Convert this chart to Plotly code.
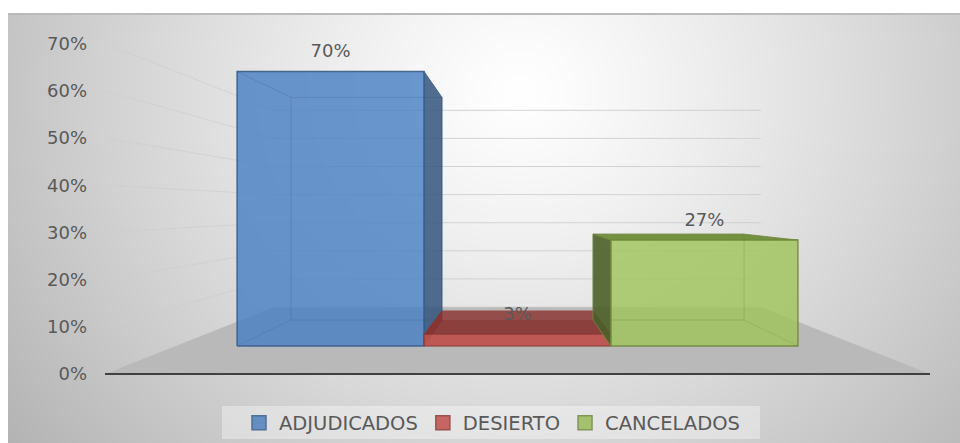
import base64, struct, zlib
import numpy as np
import plotly.graph_objects as go

# --- data ---
categories = ["ADJUDICADOS", "DESIERTO", "CANCELADOS"]
values = [70, 3, 27]
tick_values = [0, 10, 20, 30, 40, 50, 60, 70]
tick_labels = ["0%", "10%", "20%", "30%", "40%", "50%", "60%", "70%"]

# --- styles ---
front_colors = ["rgba(75,128,196,0.82)", "rgba(194,82,78,0.88)", "rgba(160,196,90,0.82)"]
dark_colors = ["rgba(50,85,125,0.85)", "rgba(140,50,48,0.8)", "rgba(75,95,40,0.9)"]
top_colors = ["rgba(79,129,189,0.25)", "rgba(140,50,48,0.8)", "rgba(110,140,55,0.95)"]
edge_colors = ["rgba(56,93,138,0.9)", "rgba(140,56,54,0.7)", "rgba(113,137,63,0.9)"]
legend_fill = ["#4F81BD", "#C0504D", "#9BBB59"]
legend_edge = ["#385D8A", "#8C3836", "#71893F"]
FONT = "DejaVu Sans"
TEXT = "#595959"

W, H = 960, 443
L = 88
PX_PER_UNIT = 4.72          # pixels per percent on the front plane
ZERO_PX = 374               # pixel row of 0 %
UNIT_X = 225.6              # pixels per bar slot on the front plane
CX = 517.5

FLOOR_RISE = 14.19
def px(X, d):
    return X * (1 - 0.41 * d)
def py(v, d):
    return FLOOR_RISE * d + v * (1 - 0.4047 * d)

FLOOR_HALF = 412.5 / UNIT_X
D_FRONT, D_BACK = 0.418, 0.806

# --- background picture: radial grey wash with a white margin and grey top rule
yy, xx = np.mgrid[0:H, 0:W]
r = np.sqrt(((xx - 520) / 500.0) ** 2 + ((yy - 90) / 455.0) ** 2)
img = np.clip(255 - 56 * r ** 1.2, 170, 255).astype(np.uint8)
img[:13, :] = 255
img[:, :8] = 255
img[13:15, 8:] = 187
raw = b"".join(b"\x00" + img[i].tobytes() for i in range(H))
def chunk(t, d):
    return struct.pack(">I", len(d)) + t + d + struct.pack(">I", zlib.crc32(t + d) & 0xffffffff)
png = (b"\x89PNG\r\n\x1a\n" + chunk(b"IHDR", struct.pack(">IIBBBBB", W, H, 8, 0, 0, 0, 0))
       + chunk(b"IDAT", zlib.compress(raw, 9)) + chunk(b"IEND", b""))
bg_uri = "data:image/png;base64," + base64.b64encode(png).decode()

fig = go.Figure()

def poly(pts, fill=None, line=None, width=1):
    xs = [p[0] for p in pts] + [pts[0][0]]
    ys = [p[1] for p in pts] + [pts[0][1]]
    fig.add_trace(go.Scatter(
        x=xs, y=ys, mode="lines", fill="toself" if fill else None,
        fillcolor=fill, line=dict(color=line or "rgba(0,0,0,0)", width=width if line else 0),
        showlegend=False, hoverinfo="skip"))

def seg(a, b, color, width=1):
    fig.add_trace(go.Scatter(x=[a[0], b[0]], y=[a[1], b[1]], mode="lines",
                             line=dict(color=color, width=width),
                             showlegend=False, hoverinfo="skip"))

# floor
poly([(px(-FLOOR_HALF, 0), py(0, 0)), (px(FLOOR_HALF, 0), py(0, 0)),
      (px(FLOOR_HALF, 1), py(0, 1)), (px(-FLOOR_HALF, 1), py(0, 1))], fill="#b9b9b9")

# walls' gridlines
for t in tick_values:
    if t > 0:
        seg((px(-FLOOR_HALF, 0), py(t, 0)), (px(-FLOOR_HALF, 1), py(t, 1)), "rgba(205,205,205,0.7)", 1)
    seg((px(-FLOOR_HALF, 1), py(t, 1)), (px(FLOOR_HALF, 1), py(t, 1)), "rgba(205,205,205,0.85)", 1)

# bars
for i, v in enumerate(values):
    x0, x1 = i - 1.5, i - 0.5
    fb = lambda X, val, d: (px(X, d), py(val, d))
    a, b = D_FRONT, D_BACK
    if i == 1:
        poly([fb(x0, v, a), fb(x1, v, a), fb(x1, v, b), fb(x0, v, b)], fill=top_colors[i])
        poly([fb(x0, 0, a), fb(x1, 0, a), fb(x1, 0, b), fb(x0, 0, b)], fill="rgba(120,40,38,0.35)")
        poly([fb(x0, v, a), fb(x0, v, b), fb(x0, 0, b), fb(x0, 0, a)], fill=dark_colors[i])
        poly([fb(x1, v, a), fb(x1, v, b), fb(x1, 0, b), fb(x1, 0, a)], fill=dark_colors[i])
    if i == 0:
        poly([fb(x1, v, a), fb(x1, v, b), fb(x1, 0, b), fb(x1, 0, a)], fill=dark_colors[i], line=edge_colors[i])
    if i == 2:
        poly([fb(x0, v, a), fb(x0, v, b), fb(x0, 0, b), fb(x0, 0, a)], fill=dark_colors[i], line=edge_colors[i])
        poly([fb(x0, v, a), fb(x1, v, a), fb(x1, v, b), fb(x0, v, b)], fill=top_colors[i], line=edge_colors[i])
    # front
    poly([fb(x0, 0, a), fb(x1, 0, a), fb(x1, v, a), fb(x0, v, a)], fill=front_colors[i], line=edge_colors[i], width=1.5)
    # back rectangle and connecting edges, faint
    if i != 1:
        tone = "50,80,120" if i == 0 else "90,110,50"
        poly([fb(x0, 0, b), fb(x1, 0, b), fb(x1, v, b), fb(x0, v, b)], line=f"rgba({tone},0.22)")
        seg(fb(x0, v, a), fb(x0, v, b), f"rgba({tone},0.25)")
        seg(fb(x0, 0, a), fb(x0, 0, b), f"rgba({tone},0.15)")
        seg(fb(x1, 0, a), fb(x1, 0, b), f"rgba({tone},0.15)")

# front axis line
seg((px(-FLOOR_HALF, 0), 0), (px(FLOOR_HALF, 0), 0), "#404040", 2.2)

# data labels
fig.add_trace(go.Scatter(
    x=[px(i - 1, D_FRONT) for i in range(len(values))],
    y=[py(v, D_FRONT) + 4.0 for v in values],
    mode="text", text=[f"{v}%" for v in values], textposition="middle center",
    textfont=dict(family=FONT, size=18, color=TEXT), showlegend=False, hoverinfo="skip"))

# legend entries
for name, c, e in zip(categories, legend_fill, legend_edge):
    fig.add_trace(go.Scatter(x=[None], y=[None], mode="markers", name=name,
                             marker=dict(symbol="square", size=14, color=c, opacity=0.85, line=dict(color=e, width=1.5))))

x_lo = (L - CX) / UNIT_X
x_hi = (W - CX) / UNIT_X
y_lo = (ZERO_PX - H) / PX_PER_UNIT
y_hi = ZERO_PX / PX_PER_UNIT

fig.update_layout(
    width=W, height=H, autosize=False,
    margin=dict(l=L, r=0, t=0, b=0, pad=0),
    paper_bgcolor="white", plot_bgcolor="rgba(0,0,0,0)",
    font=dict(family=FONT, size=18, color=TEXT),
    xaxis=dict(range=[x_lo, x_hi], visible=False, fixedrange=True),
    yaxis=dict(range=[y_lo, y_hi], tickvals=tick_values, ticktext=tick_labels, showgrid=False,
               zeroline=False, showline=False, ticks="", fixedrange=True,
               tickfont=dict(family=FONT, size=18, color=TEXT)),
    images=[dict(source=bg_uri, xref="paper", yref="paper", x=-L / (W - L), y=1,
                 sizex=W / (W - L), sizey=1, xanchor="left", yanchor="top",
                 sizing="stretch", layer="below")],
    shapes=[dict(type="rect", xref="paper", yref="y",
                 x0=(222 - L) / (W - L), x1=(760 - L) / (W - L),
                 y0=(ZERO_PX - 439) / PX_PER_UNIT, y1=(ZERO_PX - 406) / PX_PER_UNIT,
                 fillcolor="rgba(255,255,255,0.35)", line=dict(width=0), layer="below")],
    legend=dict(orientation="h", xref="paper", yref="paper",
                x=(492 - L) / (W - L), xanchor="center", y=(H - 423) / H, yanchor="middle",
                bgcolor="rgba(0,0,0,0)", font=dict(family=FONT, size=19.5, color=TEXT)),
    showlegend=True,
)
fig.write_html("out.html", post_script="document.body.style.margin='0';",
               default_width="960px", default_height="443px",
               config={"displayModeBar": False})
